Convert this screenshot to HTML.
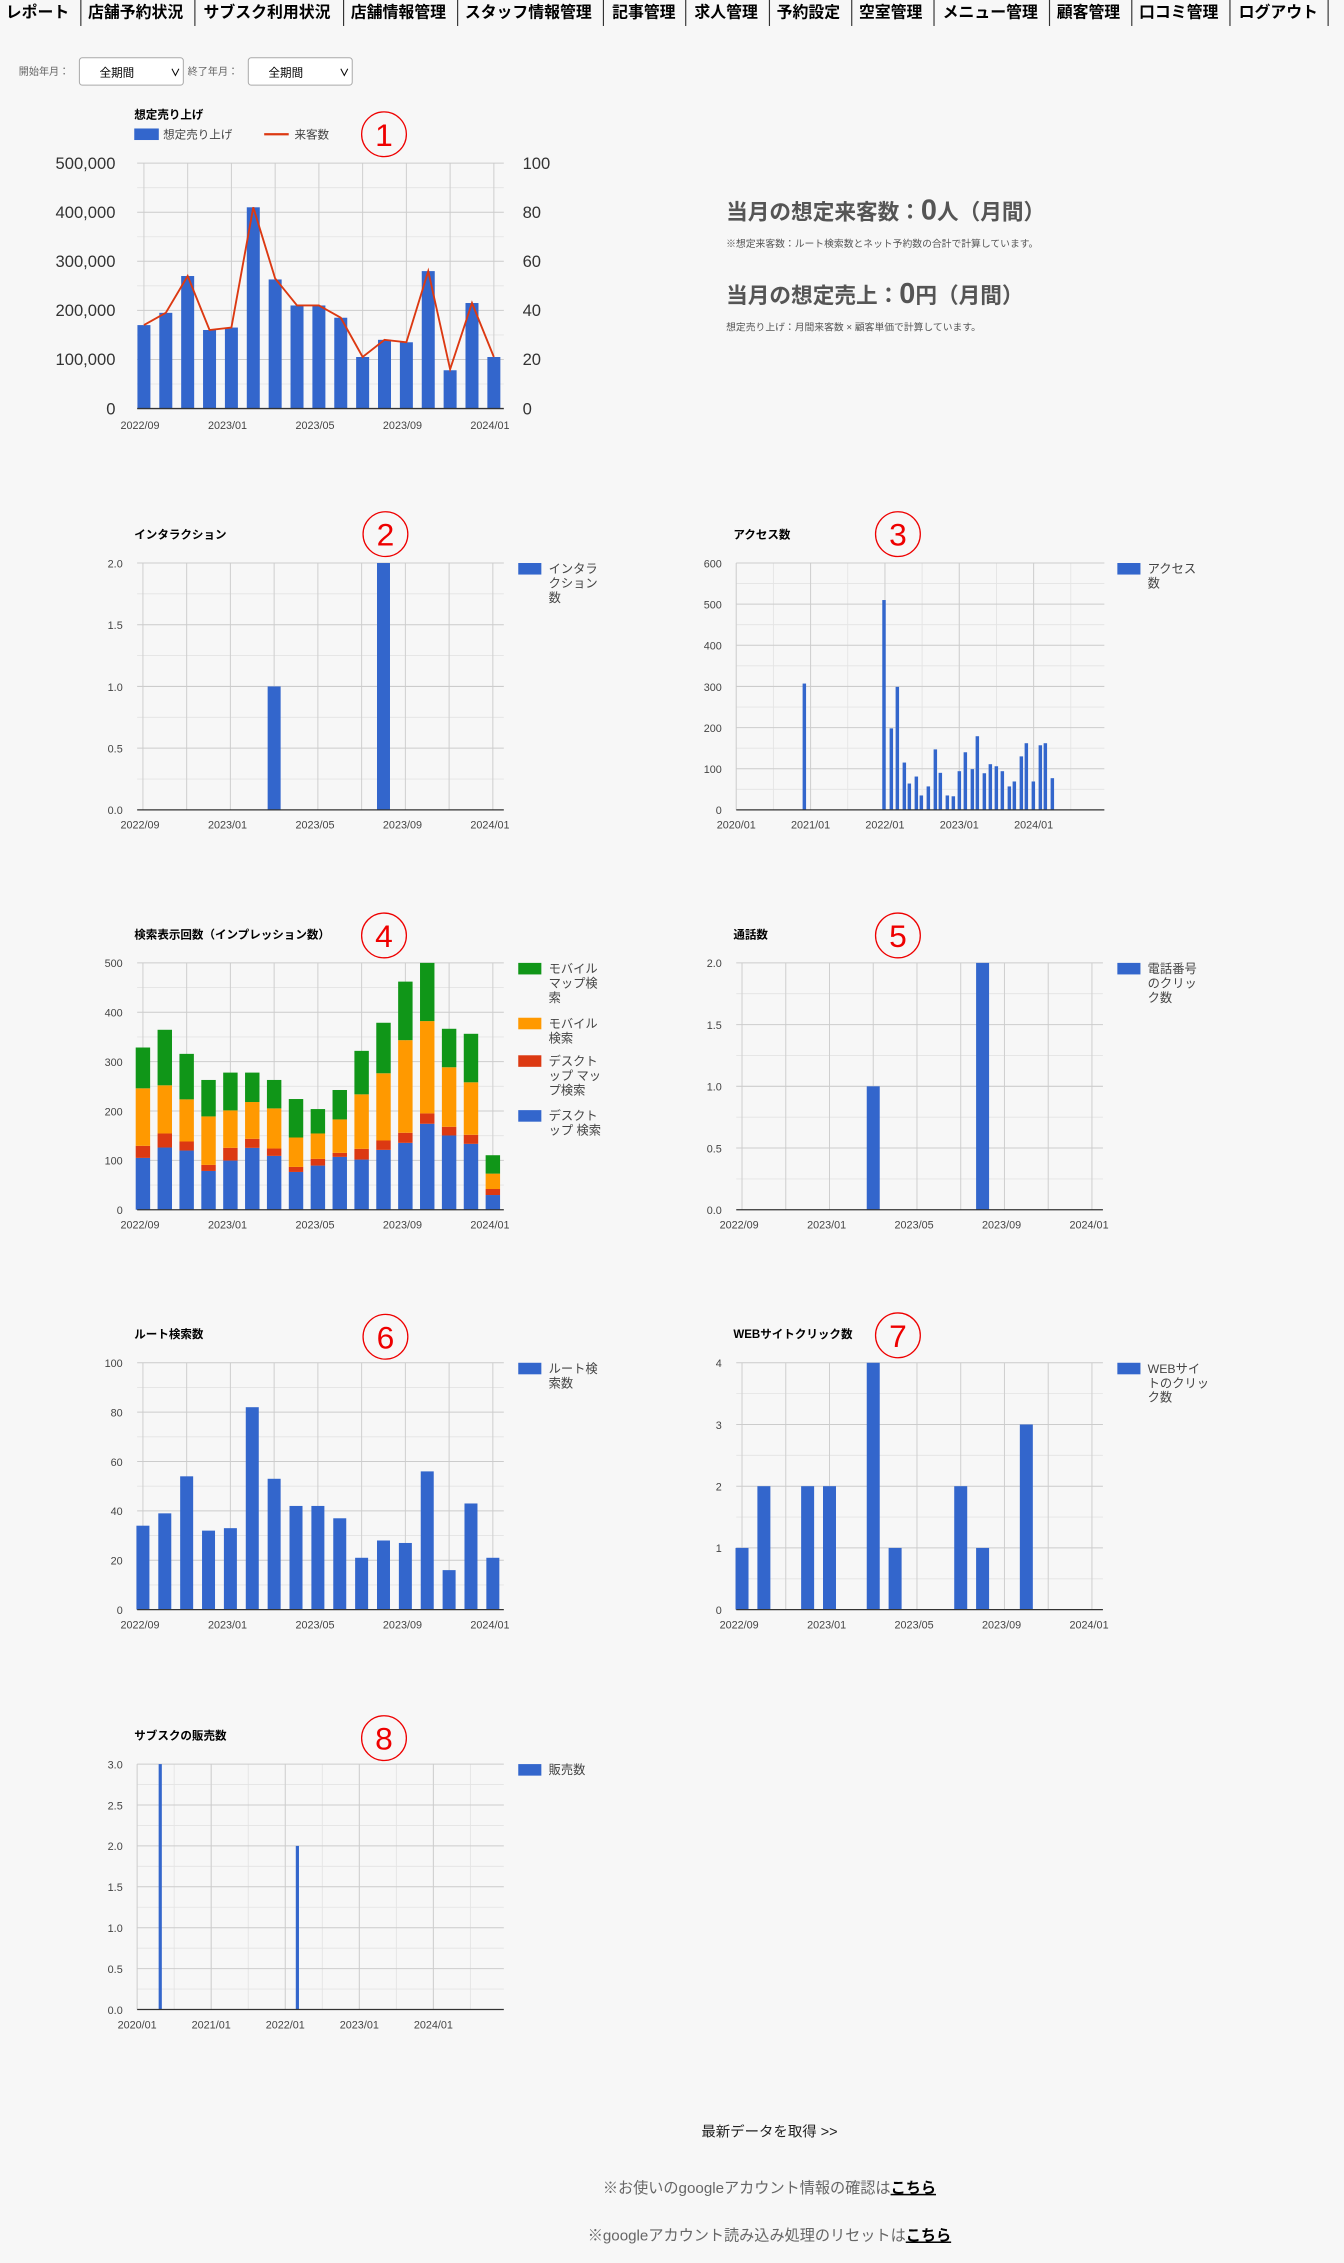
<!DOCTYPE html>
<html><head><meta charset="utf-8">
<style>
html,body{margin:0;padding:0;background:#f7f7f7;}
svg{display:block;}
text{font-family:"Liberation Sans","Noto Sans CJK JP",sans-serif;}
</style></head>
<body>
<svg id="s" width="1344" height="2263" viewBox="0 0 931 1567.6" xmlns="http://www.w3.org/2000/svg">
<rect x="0" y="0" width="931" height="1568" fill="#f7f7f7"/>
</svg>
<script>
const S=document.getElementById('s');const NS='http://www.w3.org/2000/svg';
function el(t,a,txt){const e=document.createElementNS(NS,t);for(const k in a)e.setAttribute(k,a[k]);if(txt!==undefined)e.textContent=txt;S.appendChild(e);return e;}
function tx(x,y,s,o){o=o||{};return el('text',Object.assign({x:x,y:y,'font-size':o.fs||7.5,fill:o.fill||'#444','text-anchor':o.a||'start','font-weight':o.fw||'normal'},o.extra||{}),s);}
function line(x1,y1,x2,y2,c,w){el('line',{x1,y1,x2,y2,stroke:c,'stroke-width':w||0.7});}
// nav
const nav=[["レポート",4],["店舗予約状況",61],["サブスク利用状況",141],["店舗情報管理",243],["スタッフ情報管理",322],["記事管理",424],["求人管理",481],["予約設定",538],["空室管理",595],["メニュー管理",653],["顧客管理",732],["口コミ管理",789],["ログアウト",858]];
nav.forEach(n=>tx(n[1],12,n[0],{fs:11,fill:'#000',fw:'bold'}));
[56,135,238,317,418,475,533,590,647,727,784,852,920].forEach(x=>line(x,0,x,18,'#333',0.8));
// filters
tx(13,52,"開始年月：",{fs:7,fill:'#666'});
tx(130,52,"終了年月：",{fs:7,fill:'#666'});
[[55],[172]].forEach(([x])=>{el('rect',{x:x,y:40,width:72,height:19,rx:2,fill:'#fff',stroke:'#aaa','stroke-width':0.7});tx(x+14,53,"全期間",{fs:8,fill:'#000'});tx(x+63,53,"∨",{fs:7,fill:'#000',fw:'bold'});});
// circled numbers
const circ=[[266,93,'1'],[267,370,'2'],[622,370,'3'],[266,648,'4'],[622,648,'5'],[267,926,'6'],[622,925,'7'],[266,1204,'8']];
circ.forEach(c=>{el('circle',{cx:c[0],cy:c[1],r:15.5,fill:'none',stroke:'#e00','stroke-width':0.9});tx(c[0],c[1]+8,c[2],{fs:22,fill:'#e00',a:'middle'});});
// generic chart frame
function frame(x0,x1,y0,y1,nMaj,labels,vlines,vmajor){
  // minor horizontal
  for(let i=0;i<nMaj;i++){const y=y1-(i+0.5)*(y1-y0)/nMaj;line(x0,y,x1,y,'#e4e4e4',0.6);}
  (vlines||[]).forEach(x=>line(x,y0,x,y1,'#e4e4e4',0.6));
  (vmajor||[]).forEach(x=>line(x,y0,x,y1,'#cfcfcf',0.7));
  for(let i=1;i<=nMaj;i++){const y=y1-i*(y1-y0)/nMaj;line(x0,y,x1,y,'#cccccc',0.7);}
  if(labels)labels.forEach((l,i)=>tx(x0-10,y1-i*(y1-y0)/nMaj+3,l,{a:'end',fs:7.5}));
}
function base(x0,x1,y1){line(x0,y1,x1,y1,'#333',0.9);}
const monthL=['2022/09','2023/01','2023/05','2023/09','2024/01'];
function monthAxis(x0,step,y){monthL.forEach((l,i)=>tx(x0+i*4*step,y,l,{a:'middle',fs:7.5}));}
function monthVlines(x0,step){const a=[];for(let m=0;m<=16;m+=2)a.push(x0+m*step);return a;}
const BLUE='#3366cc';
function legend(x,y,lines,col){el('rect',{x:x,y:y,width:16,height:8,fill:col||BLUE});lines.forEach((l,i)=>tx(x+21,y+7+i*10,l,{fs:8.5}));}
// Chart 1
{const x0=95,x1=349,y0=113,y1=283,mx=99.7,st=15.15;
 frame(x0,x1,y0,y1,5,null,null,monthVlines(mx,st));
 ['0','100,000','200,000','300,000','400,000','500,000'].forEach((l,i)=>tx(80,y1-i*34+4,l,{a:'end',fs:11.5,fill:'#333'}));
 ['0','20','40','60','80','100'].forEach((l,i)=>tx(362,y1-i*34+4,l,{fs:11.5,fill:'#333'}));
 const sales=[170,195,270,160,165,410,263,210,210,185,105,140,135,280,78,215,105];
 const vis=[34,39,54,32,33,82,53,42,42,37,21,28,27,56,16,43,21];
 sales.forEach((v,i)=>el('rect',{x:mx+i*st-4.5,y:y1-v/500*170,width:9,height:v/500*170,fill:BLUE}));
 el('polyline',{points:vis.map((v,i)=>(mx+i*st)+','+(y1-v/100*170)).join(' '),fill:'none',stroke:'#dc3912','stroke-width':1.3});
 base(x0,x1,y1);monthAxis(97,st*1.0,297);
 tx(93,82,"想定売り上げ",{fs:8,fill:'#000',fw:'bold'});
 el('rect',{x:93,y:89,width:17,height:8,fill:BLUE});tx(113,96,"想定売り上げ",{fs:8});
 line(183,93,200,93,'#dc3912',1.5);tx(204,96,"来客数",{fs:8});
}
// right text chart1
tx(503,152,"",{});
{const t=el('text',{x:503,y:152,'font-size':15,'font-weight':'bold',fill:'#555'});t.innerHTML='当月の想定来客数：<tspan font-size="20">0</tspan>人（月間）';
 tx(503,171,"※想定来客数：ルート検索数とネット予約数の合計で計算しています。",{fs:6.8,fill:'#555'});
 const t2=el('text',{x:503,y:210,'font-size':15,'font-weight':'bold',fill:'#555'});t2.innerHTML='当月の想定売上：<tspan font-size="20">0</tspan>円（月間）';
 tx(503,229,"想定売り上げ：月間来客数 × 顧客単価で計算しています。",{fs:6.8,fill:'#555'});}
// month bar chart helper
function mchart(x0,y0,title,tmaj,labs,vals,max,leg){
  const x1=x0+254,y1=y0+171,mx=x0+4,st=15.15;
  frame(x0,x1,y0,y1,tmaj,labs,null,monthVlines(mx,st));
  Object.keys(vals).forEach(m=>{const h=vals[m]/max*171;el('rect',{x:mx+m*st-4.5,y:y1-h,width:9,height:h,fill:BLUE});});
  base(x0,x1,y1);monthAxis(x0+2,st,y1+13);
  tx(x0-2,y0-17,title,{fs:8,fill:'#000',fw:'bold'});
  legend(x0+264,y0,leg);
}
const lab2=['0.0','0.5','1.0','1.5','2.0'];
mchart(95,390,"インタラクション",4,lab2,{6:1,11:2},2,["インタラ","クション","数"]);
mchart(510,667,"通話数",4,lab2,{6:1,11:2},2,["電話番号","のクリッ","ク数"]);
{const r=[34,39,54,32,33,82,53,42,42,37,21,28,27,56,16,43,21];const o={};r.forEach((v,i)=>o[i]=v);
 mchart(95,944,"ルート検索数",5,['0','20','40','60','80','100'],o,100,["ルート検","索数"]);}
mchart(510,944,"WEBサイトクリック数",4,['0','1','2','3','4'],{0:1,1:2,3:2,4:2,6:4,7:1,10:2,11:1,13:3},4,["WEBサイ","トのクリッ","ク数"]);
// Chart 4 stacked
{const x0=95,x1=349,y0=667,y1=838,mx=99,st=15.15;
 frame(x0,x1,y0,y1,5,['0','100','200','300','400','500'],null,monthVlines(mx,st));
 const d=[[773,737,565,443],[742,700,556,390],[751,724,598,462],[812,794,649,540],[781,743,631,518],[743,716,606,518],[767,745,625,540],[815,800,712,597],[796,776,700,627],[770,758,658,570],[778,746,583,453],[749,721,520,369],[728,698,421,246],[671,640,364,190],[706,680,502,387],[731,704,547,402],[884,866,820,765]];
 const cols=[BLUE,'#dc3912','#ff9900','#109618'];
 d.forEach((b,i)=>{let prev=y1;b.forEach((zy,k)=>{const v=(928-zy)/1.476;const y=y1-v/500*171;el('rect',{x:mx+i*st-5,y:y,width:10,height:Math.max(0,prev-y),fill:cols[k]});prev=y;});});
 base(x0,x1,y1);monthAxis(97,st,851);
 tx(93,650,"検索表示回数（インプレッション数）",{fs:8,fill:'#000',fw:'bold'});
 legend(359,667,["モバイル","マップ検","索"],'#109618');
 legend(359,705,["モバイル","検索"],'#ff9900');
 legend(359,731,["デスクト","ップ マッ","プ検索"],'#dc3912');
 legend(359,769,["デスクト","ップ 検索"],BLUE);
}
// Chart 3 access
{const x0=510,x1=765,y0=390,y1=561;
 const yr=i=>510+i*51.5;const vm=[],vM=[];
 for(let i=0;i<10;i++){vm.push(510+i*25.75);} for(let i=0;i<5;i++)vM.push(yr(i));
 frame(x0,x1,y0,y1,6,['0','100','200','300','400','500','600'],vm,vM);
 const b=[[313,307],[552,510],[574,198],[592,299],[613,115],[628,64],[649,81],[664,35],[685,57],[706,147],[721,90],[742,35],[760,33],[778,94],[796,140],[817,99],[832,179],[853,89],[871,111],[889,106],[907,94],[928,57],[943,69],[964,130],[979,162],[1000,69],[1021,157],[1036,162],[1057,77]];
 b.forEach(([zx,v])=>{const x=(700+zx/3)/1.4436;const h=v/600*171;el('rect',{x:x-1.2,y:y1-h,width:2.4,height:h,fill:BLUE});});
 base(x0,x1,y1);
 ['2020/01','2021/01','2022/01','2023/01','2024/01'].forEach((l,i)=>tx(yr(i),y1+13,l,{a:'middle'}));
 tx(508,373,"アクセス数",{fs:8,fill:'#000',fw:'bold'});
 legend(774,390,["アクセス","数"]);
}
// Chart 8
{const x0=95,x1=349,y0=1222,y1=1392;
 const yr=i=>95+i*51.3;const vm=[],vM=[];
 for(let i=0;i<10;i++)vm.push(95+i*25.65);for(let i=0;i<5;i++)vM.push(yr(i));
 frame(x0,x1,y0,y1,6,['0.0','0.5','1.0','1.5','2.0','2.5','3.0'],vm,vM);
 [[111,3],[206,2]].forEach(([x,v])=>{const h=v/3*170;el('rect',{x:x-1.1,y:y1-h,width:2.2,height:h,fill:BLUE});});
 base(x0,x1,y1);
 ['2020/01','2021/01','2022/01','2023/01','2024/01'].forEach((l,i)=>tx(yr(i),y1+13,l,{a:'middle'}));
 tx(93,1205,"サブスクの販売数",{fs:8,fill:'#000',fw:'bold'});
 legend(359,1222,["販売数"]);
}
// bottom
tx(533,1480,"最新データを取得 >>",{a:'middle',fs:10,fill:'#222'});
{const t=el('text',{x:533,y:1519,'font-size':10.5,fill:'#666','text-anchor':'middle'});t.innerHTML='※お使いのgoogleアカウント情報の確認は<tspan fill="#000" font-weight="bold" text-decoration="underline">こちら</tspan>';
 const t2=el('text',{x:533,y:1552,'font-size':10.5,fill:'#666','text-anchor':'middle'});t2.innerHTML='※googleアカウント読み込み処理のリセットは<tspan fill="#000" font-weight="bold" text-decoration="underline">こちら</tspan>';}
</script>
</body></html>
